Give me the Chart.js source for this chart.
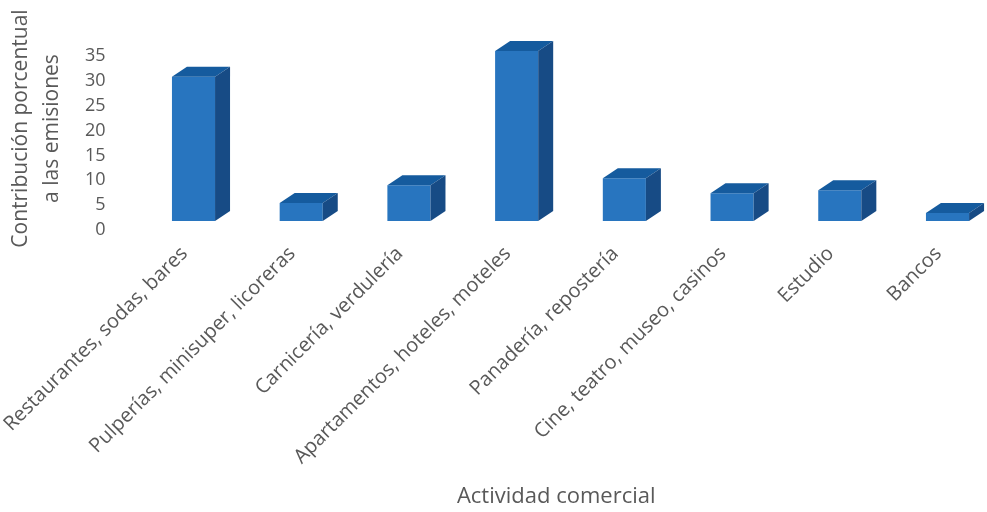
<!DOCTYPE html>
<html>
<head>
<meta charset="utf-8">
<script src="https://cdn.jsdelivr.net/npm/chart.js@4/dist/chart.umd.min.js"></script>
<style>
  html, body { margin: 0; padding: 0; background: #fff; }
</style>
</head>
<body>
<canvas id="emisionesChart" width="987" height="512"></canvas>
<script>
// Datos
const categories = [
  'Restaurantes, sodas, bares',
  'Pulperías, minisuper, licoreras',
  'Carnicería, verdulería',
  'Apartamentos, hoteles, moteles',
  'Panadería, repostería',
  'Cine, teatro, museo, casinos',
  'Estudio',
  'Bancos'
];
const contribution = [29, 3.6, 7.2, 34.2, 8.6, 5.6, 6.2, 1.6];
const yMin = 0;
const yMax = 35;
const yStep = 5;

const textColor = '#595959';
const frontColor = '#2875BF';
const topColor = '#155B9E';
const sideColor = '#174B85';
const fontFamily = '"Open Sans", Lato, sans-serif';

// Caras superior y lateral para el efecto 3D
const bar3d = {
  id: 'bar3d',
  afterDatasetsDraw(chart) {
    const ctx = chart.ctx;
    const dx = 15, dy = 10;
    chart.getDatasetMeta(0).data.forEach(bar => {
      const { x, y, base, width } = bar.getProps(['x', 'y', 'base', 'width'], true);
      const l = x - width / 2;
      const r = x + width / 2;
      ctx.save();
      ctx.fillStyle = topColor;
      ctx.beginPath();
      ctx.moveTo(l, y);
      ctx.lineTo(l + dx, y - dy);
      ctx.lineTo(r + dx, y - dy);
      ctx.lineTo(r, y);
      ctx.closePath();
      ctx.fill();
      ctx.fillStyle = sideColor;
      ctx.beginPath();
      ctx.moveTo(r, y);
      ctx.lineTo(r + dx, y - dy);
      ctx.lineTo(r + dx, base - dy);
      ctx.lineTo(r, base);
      ctx.closePath();
      ctx.fill();
      ctx.restore();
    });
  }
};

new Chart(document.getElementById('emisionesChart').getContext('2d'), {
  type: 'bar',
  data: {
    labels: categories,
    datasets: [{
      data: contribution,
      backgroundColor: frontColor,
      borderWidth: 0,
      categoryPercentage: 1,
      barPercentage: 0.4,
      clip: false
    }]
  },
  options: {
    responsive: false,
    animation: false,
    devicePixelRatio: 1,
    layout: { padding: { top: 47, right: 39.5, left: 0, bottom: 0 } },
    plugins: {
      legend: { display: false },
      tooltip: { enabled: false }
    },
    scales: {
      x: {
        offset: false,
        grid: { display: false, drawTicks: false },
        border: { display: false },
        ticks: {
          autoSkip: false,
          minRotation: 45,
          maxRotation: 45,
          padding: 21,
          labelOffset: -9,
          color: textColor,
          font: { family: fontFamily, size: 20 }
        },
        title: {
          display: true,
          // espacios finales para desplazar el título a la izquierda como en el original
          text: 'Actividad comercial     ',
          color: textColor,
          font: { family: fontFamily, size: 22 },
          padding: { top: 0, bottom: 2 }
        },
        afterFit(scale) {
          scale.height = 512 - 221;
          scale.paddingLeft = 0;
          scale.paddingRight = 0;
        }
      },
      y: {
        min: yMin,
        max: yMax,
        grid: { display: false, drawTicks: false },
        border: { display: false },
        ticks: {
          autoSkip: false,
          stepSize: yStep,
          padding: 88,
          labelOffset: 9,
          color: textColor,
          font: { family: fontFamily, size: 18 }
        },
        title: {
          display: true,
          text: ['  Contribución porcentual', '  a las emisiones'],
          color: textColor,
          font: { family: fontFamily, size: 21, lineHeight: 1.5 },
          padding: { top: 5, bottom: 0 }
        },
        afterFit(scale) {
          scale.width = 193.5;
          scale.paddingTop = 0;
          scale.paddingBottom = 0;
        }
      }
    }
  },
  plugins: [bar3d]
});
</script>
</body>
</html>
